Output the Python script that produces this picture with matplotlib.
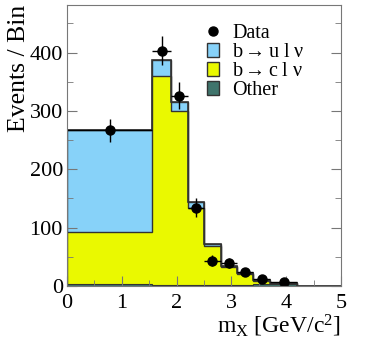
import numpy as np
import matplotlib
matplotlib.use('Agg')
import matplotlib.pyplot as plt
from matplotlib.patches import Patch
from matplotlib.lines import Line2D

plt.rcParams['font.family'] = ['Liberation Serif', 'DejaVu Serif']
plt.rcParams['mathtext.fontset'] = 'custom'
plt.rcParams['mathtext.rm'] = 'Liberation Serif'
plt.rcParams['mathtext.it'] = 'Liberation Serif:italic'

# bin edges of m_X and stacked MC components (events per bin)
edges = [0.0, 1.55, 1.9, 2.2, 2.5, 2.8, 3.1, 3.4, 3.7, 4.2, 5.0]
other = [3, 1, 2, 2, 2, 2, 2, 3, 3, 0]
b_to_c = [89, 359, 298, 132, 66, 30, 18, 5, 1, 0]
b_to_u = [175, 28, 15, 9, 4, 2, 2, 2, 1, 0]

# data points
data_x = [0.775, 1.725, 2.05, 2.35, 2.65, 2.95, 3.25, 3.55, 3.95]
data_y = [267, 403, 326, 134, 43, 39, 23, 11, 7]
data_yerr = [20, 25, 23, 16, 9, 9, 7, 5, 4]
data_xerr = [0.775, 0.175, 0.15, 0.15, 0.15, 0.15, 0.15, 0.15, 0.25]

col_u = '#87d2f9'
col_c = '#eaf900'
col_o = '#3f746c'
edge = '#333333'

fig = plt.figure(figsize=(3.79, 3.46), dpi=100)
ax = fig.add_axes([0.177, 0.174, 0.723, 0.812])

lvl_o = np.array(other)
lvl_c = lvl_o + np.array(b_to_c)
lvl_u = lvl_c + np.array(b_to_u)

ax.stairs(lvl_u, edges, fill=True, facecolor=col_u, edgecolor=edge, lw=1)
ax.stairs(lvl_c, edges, fill=True, facecolor=col_c, edgecolor=edge, lw=1)
ax.stairs(lvl_o, edges, fill=True, facecolor=col_o, edgecolor=edge, lw=0.8)
ax.stairs(lvl_u, edges, fill=False, color=edge, lw=1.2)

ax.errorbar(data_x, data_y, yerr=data_yerr, xerr=data_xerr, fmt='o', color='black',
            ms=6.5, elinewidth=1, capsize=0)

ax.set_xlim(0, 5)
ax.set_ylim(0, 482)
ax.set_xticks([0, 1, 2, 3, 4, 5])
ax.set_xticks(np.arange(0, 5.01, 0.5), minor=True)
ax.set_yticks([0, 100, 200, 300, 400])
ax.set_yticks(np.arange(0, 481, 50), minor=True)
ax.tick_params(which='both', direction='in', right=True, top=False, color='#777777',
               labelsize=16)
ax.tick_params(axis='x', pad=6)
ax.tick_params(axis='y', pad=3)
ax.tick_params(which='major', length=7)
ax.tick_params(which='minor', length=4)
for s in ax.spines.values():
    s.set_color('#777777')

ax.set_ylabel('Events / Bin', fontsize=18.5, loc='top', labelpad=0)
ax.set_xlabel(r'm$_{\rm X}$ [GeV/c$^{2}$]', fontsize=17, loc='right', labelpad=0)

handles = [Line2D([], [], marker='o', ls='none', color='black', ms=6.5),
           Patch(facecolor=col_u, edgecolor=edge),
           Patch(facecolor=col_c, edgecolor=edge),
           Patch(facecolor=col_o, edgecolor=edge)]
labels = ['Data', r'b$\rightarrow$u l ν', r'b$\rightarrow$c l ν', 'Other']
ax.legend(handles, labels, loc='upper left', bbox_to_anchor=(0.51, 0.931), frameon=False,
          fontsize=14.5, handlelength=0.58, handleheight=0.65, handletextpad=0.67,
          labelspacing=0.0, borderpad=0, borderaxespad=0)

fig.savefig('out.png', dpi=100)
